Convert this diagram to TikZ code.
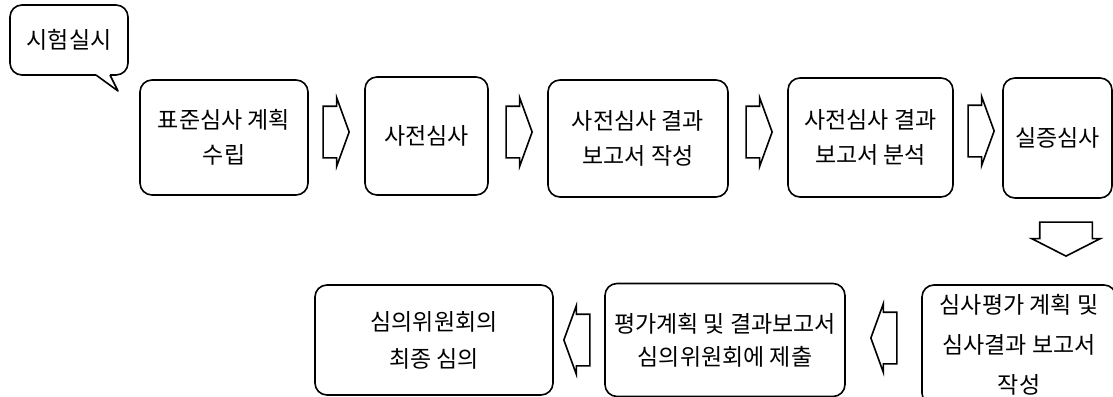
\documentclass[tikz,border=0pt]{standalone}
\usepackage{fontspec}
\setmainfont{Noto Sans CJK KR}
\usetikzlibrary{shapes.arrows}

\tikzset{
    stage/.style={draw, line width=1.6pt, rounded corners=12pt, align=center,
        font=\fontsize{23}{35}\selectfont},
    flow/.style={draw, line width=1.6pt, single arrow, single arrow tip angle=140,
        single arrow head extend=8.5pt, inner xsep=0pt, inner ysep=25pt,
        minimum height=26pt, anchor=tip},
}

\begin{document}
\begin{tikzpicture}[x=1pt,y=-1pt]
    \useasboundingbox (0,0) rectangle (1113,396);
    % speech bubble
    \node[stage, minimum width=118pt, minimum height=70pt] (start) at (69,40) {시험실시};
    \fill[white] (96,73) rectangle (110,77);
    \draw[line width=1.6pt, line join=round] (96,75) -- (118,91) -- (110,75);
    % upper row
    \node[stage, minimum width=168pt, minimum height=115pt] (plan) at (224,137.5) {표준심사 계획\\수립};
    \node[stage, minimum width=123pt, minimum height=118pt] (pre) at (426.5,136) {사전심사};
    \node[stage, minimum width=180pt, minimum height=117pt] (prewrite) at (638,138.5) {사전심사 결과\\보고서 작성};
    \node[stage, minimum width=165pt, minimum height=119pt] (preanal) at (870.5,137.5) {사전심사 결과\\보고서 분석};
    \node[stage, minimum width=109pt, minimum height=120pt] (field) at (1057.5,138) {실증심사};
    % lower row
    \node[stage, minimum width=194pt, minimum height=120pt,
        font=\fontsize{23}{40}\selectfont] (evalwrite) at (1019,345) {심사평가 계획 및\\심사결과 보고서\\작성};
    \node[stage, minimum width=240pt, minimum height=113pt,
        font=\fontsize{23}{33}\selectfont] (submit) at (725,340) {평가계획 및 결과보고서\\심의위원회에 제출};
    \node[stage, minimum width=238pt, minimum height=110pt,
        font=\fontsize{23}{37}\selectfont] (final) at (434,340) {심의위원회의\\최종 심의};
    % block arrows
    \node[flow] (a1) at (350,132) {};
    \node[flow] (a2) at (533,132) {};
    \node[flow] (a3) at (773,132) {};
    \node[flow] (a4) at (995,131) {};
    \node[flow, rotate=-90, single arrow tip angle=126, inner ysep=25.5pt,
        single arrow head extend=8pt, minimum height=34pt] (a5) at (1066,257) {};
    \node[flow, rotate=180] (a6) at (870,338) {};
    \node[flow, rotate=180] (a7) at (563,340) {};
\end{tikzpicture}
\end{document}
